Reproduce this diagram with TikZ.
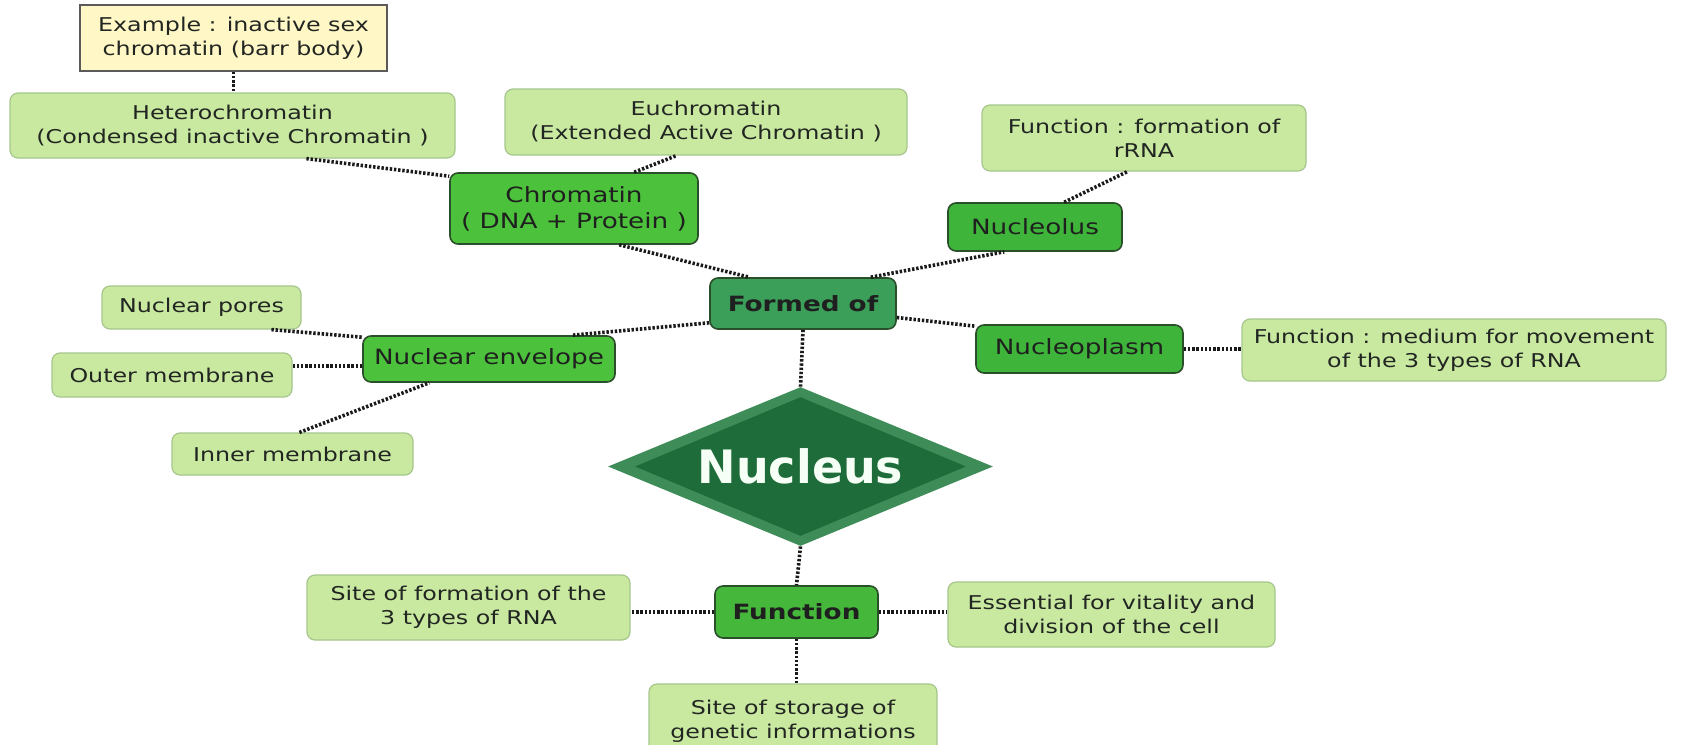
\documentclass[tikz,border=0pt]{standalone}
\usepackage{fontspec}
\setmainfont{DejaVu Sans}[FakeStretch=1.25]
\newfontfamily\nucfont{DejaVu Sans}
\usetikzlibrary{shapes.geometric,calc}
\definecolor{lightfill}{HTML}{C9E9A1}
\definecolor{lightdraw}{HTML}{A6C68C}
\definecolor{midfill}{HTML}{4CC23C}
\definecolor{deepfill}{HTML}{3EB53A}
\definecolor{formfill}{HTML}{3B9F5A}
\definecolor{funcfill}{HTML}{45B83C}
\definecolor{edgedark}{HTML}{2B4F2A}
\definecolor{yellowfill}{HTML}{FFF7C6}
\definecolor{yellowdraw}{HTML}{5A5A5A}
\definecolor{txt}{HTML}{222622}
\definecolor{diaout}{HTML}{3E8D58}
\definecolor{diain}{HTML}{1E6C39}
\definecolor{conncol}{HTML}{1A1A1A}
\tikzset{
  lightbox/.style={draw=lightdraw, fill=lightfill, rounded corners=4pt, line width=0.6pt,
    align=center, text=txt, font=\fontsize{9.5}{12}\selectfont, inner sep=0pt},
  yellowbox/.style={draw=yellowdraw, fill=yellowfill, line width=0.7pt,
    align=center, text=txt, font=\fontsize{9.5}{12}\selectfont, inner sep=0pt},
  darkbox/.style={draw=edgedark, fill=midfill, rounded corners=4pt, line width=0.8pt,
    align=center, text=black!88, font=\fontsize{10.5}{13}\selectfont, inner sep=0pt},
  boldbox/.style={darkbox, font=\fontsize{10.5}{13}\selectfont\bfseries},
  conn/.style={draw=conncol, line width=1.8pt, dash pattern=on 1.2pt off 0.9pt},
}
\begin{document}
\begin{tikzpicture}[x=0.5pt, y=-0.5pt]
\clip (0,0) rectangle (1696,744);
\fill[white] (0,0) rectangle (1696,744);

% top left chain
\node[yellowbox, minimum width=153.5pt, minimum height=33pt] (ex) at (233.5,38)
  {Example : inactive sex\\chromatin (barr body)};
\node[lightbox, minimum width=222.5pt, minimum height=32.5pt] (het) at (232.5,125.5)
  {Heterochromatin\\(Condensed inactive Chromatin )};
\node[lightbox, minimum width=201pt, minimum height=33pt] (eu) at (706,122)
  {Euchromatin\\(Extended Active Chromatin )};
\node[darkbox, minimum width=124pt, minimum height=35.5pt] (chr) at (574,208.5)
  {Chromatin\\( DNA + Protein )};

% top right
\node[lightbox, minimum width=162pt, minimum height=33pt] (rrna) at (1144,138)
  {Function : formation of\\rRNA};
\node[darkbox, fill=deepfill, minimum width=87pt, minimum height=24pt] (nucleolus) at (1035,227)
  {Nucleolus};
\node[boldbox, fill=formfill, minimum width=93pt, minimum height=25.5pt] (formed) at (803,303.5)
  {Formed of};
\node[darkbox, fill=deepfill, minimum width=103.5pt, minimum height=24pt] (nucleoplasm) at (1079.5,349)
  {Nucleoplasm};
\node[lightbox, minimum width=212pt, minimum height=31pt] (medium) at (1454,350)
  {Function : medium for movement\\of the 3 types of RNA};

% left envelope group
\node[darkbox, minimum width=126pt, minimum height=23pt] (env) at (489,359)
  {Nuclear envelope};
\node[lightbox, minimum width=99.5pt, minimum height=21.5pt] (pores) at (201.5,307.5)
  {Nuclear pores};
\node[lightbox, minimum width=120pt, minimum height=22pt] (outer) at (172,375)
  {Outer membrane};
\node[lightbox, minimum width=120.5pt, minimum height=21pt] (inner) at (292.5,454)
  {Inner membrane};

% nucleus diamond
\node[diamond, fill=diaout, minimum width=192.5pt, minimum height=79.5pt, inner sep=0pt] (nuc) at (800.5,466.5) {};
\node[diamond, fill=diain, minimum width=165.5pt, minimum height=69.5pt, inner sep=0pt] (nucin) at (800.5,466.5) {};
\node[text=white!96!green, font=\nucfont\fontsize{23}{26}\selectfont\bfseries, inner sep=0pt] (nuctext) at (800.5,466.5) {Nucleus};

% function group
\node[boldbox, fill=funcfill, minimum width=81.5pt, minimum height=26pt] (func) at (796.5,612)
  {Function};
\node[lightbox, minimum width=161.5pt, minimum height=32.5pt] (siteform) at (468.5,607.5)
  {Site of formation of the\\3 types of RNA};
\node[lightbox, minimum width=163.5pt, minimum height=32.5pt] (essential) at (1111.5,614.5)
  {Essential for vitality and\\division of the cell};
\node[lightbox, minimum width=144pt, minimum height=37pt] (storage) at (793,721)
  {Site of storage of\\genetic informations};

% connector end points
\coordinate (envo) at ($(env.west)+(0,7)$);

% connectors
\draw[conn] (ex.south) -- (ex.south |- het.north);
\draw[conn] ($(het.south west)+(297,0)$) -- ($(chr.north west)+(0,4)$);
\draw[conn] ($(chr.north west)+(185,0)$) -- ($(eu.south west)+(172,0)$);
\draw[conn] ($(chr.south west)+(170,0)$) -- ($(formed.north west)+(40,0)$);
\draw[conn] ($(formed.north east)+(-26,0)$) -- ($(nucleolus.south west)+(57,0)$);
\draw[conn] ($(nucleolus.north west)+(117,0)$) -- ($(rrna.south west)+(146,0)$);
\draw[conn] ($(formed.east)+(0,14)$) -- ($(nucleoplasm.north west)+(0,2)$);
\draw[conn] (nucleoplasm.east) -- (nucleoplasm.east -| medium.west);
\draw[conn] ($(formed.south west)+(0,-7)$) -- ($(env.north west)+(210,0)$);
\draw[conn] (formed.south) -- (nuc.north);
\draw[conn] ($(pores.south west)+(170,0)$) -- ($(env.north west)+(0,2)$);
\draw[conn] (envo) -- (envo -| outer.east);
\draw[conn] ($(inner.north west)+(128,0)$) -- ($(env.south west)+(67,0)$);
\draw[conn] (nuc.south) -- (func.north);
\draw[conn] (func.west) -- (func.west -| siteform.east);
\draw[conn] (func.east) -- (func.east -| essential.west);
\draw[conn] (func.south) -- (func.south |- storage.north);
\end{tikzpicture}
\end{document}
